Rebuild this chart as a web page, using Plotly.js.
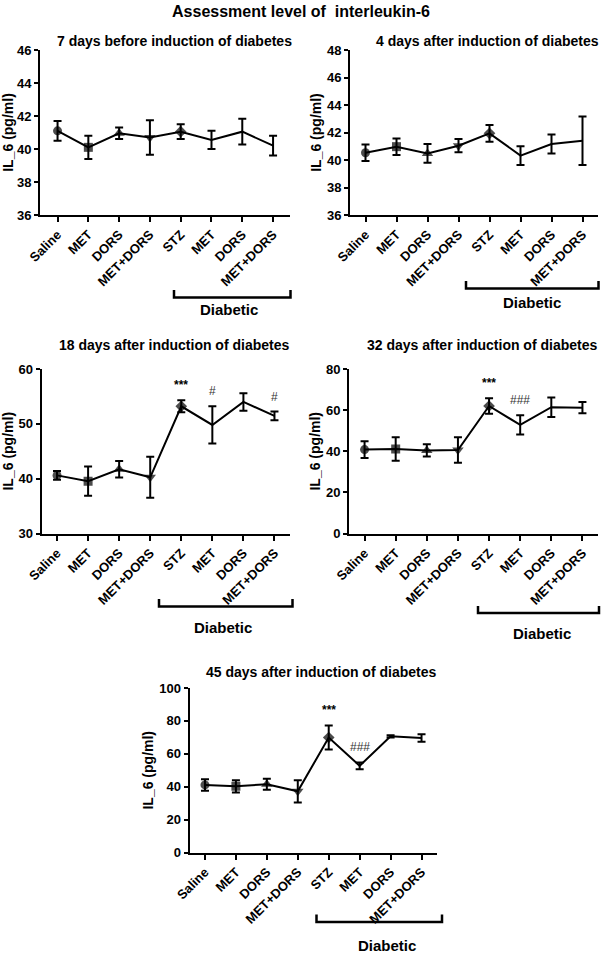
<!DOCTYPE html>
<html>
<head>
<meta charset="utf-8">
<script src="https://cdn.plot.ly/plotly-3.0.1.min.js"></script>
<style>html,body{margin:0;padding:0;background:#fff;}#chart{width:602px;height:956px;}</style>
</head>
<body>
<div id="chart"></div>
<script>
// ---- data ----
const groups = ['Saline', 'MET', 'DORS', 'MET+DORS', 'STZ', 'MET', 'DORS', 'MET+DORS'];
const groupIndex = [0, 1, 2, 3, 4, 5, 6, 7];

const meanDm7 = [41.1, 40.1, 40.95, 40.7, 41.05, 40.55, 41.05, 40.2];
const semDm7  = [0.6, 0.7, 0.35, 1.05, 0.45, 0.55, 0.78, 0.6];

const meanD4 = [40.53, 40.97, 40.48, 41.04, 41.94, 40.32, 41.16, 41.4];
const semD4  = [0.6, 0.6, 0.68, 0.48, 0.61, 0.68, 0.69, 1.76];

const meanD18 = [40.6, 39.55, 41.7, 40.25, 53.2, 49.8, 54.0, 51.45];
const semD18  = [0.8, 2.65, 1.5, 3.75, 1.1, 3.4, 1.6, 0.78];
const sigD18  = ['', '', '', '', '***', '#', '', '#'];

const meanD32 = [40.8, 41.1, 40.4, 40.6, 62.0, 52.8, 61.4, 61.2];
const semD32  = [4.05, 5.7, 3.0, 6.25, 3.8, 4.65, 4.8, 2.75];
const sigD32  = ['', '', '', '', '***', '###', '', ''];

const meanD45 = [41.1, 40.2, 41.5, 37.2, 69.9, 52.7, 70.6, 69.6];
const semD45  = [3.5, 3.75, 3.3, 6.75, 7.35, 2.05, 0.65, 2.35];
const sigD45  = ['', '', '', '', '***', '###', '', ''];

const panelTitles = [
  '7 days before induction of diabetes',
  '4 days after induction of diabetes',
  '18 days after induction of diabetes',
  '32 days after induction of diabetes',
  '45 days after induction of diabetes'
];
const yTitle = 'IL_6 (pg/ml)';
const groupLabel = 'Diabetic';
const mainTitle = 'Assessment level of  interleukin-6';

// ---- layout helpers ----
const W = 602, H = 956;
const px = v => v / W;
const py = v => 1 - v / H;
const FONT = 'Arial, "Liberation Sans", Helvetica, sans-serif';

const symbols = ['circle', 'square', 'triangle-up', 'triangle-down', 'diamond', 'circle', 'circle', 'circle'];
const sizes = [9, 9, 10, 10, 9, 0, 0, 0];

const panels = [
  {mean: meanDm7, sem: semDm7, sig: null, xd: [40, 290], yd: [50, 215], xr: [-0.57, 7.55], yr: [36, 46], dt: 2,
   tx: 174, ty: 41, br: [174, 290.5, 290, 297.5], dx: 229, dy: 309},
  {mean: meanD4, sem: semD4, sig: null, xd: [350, 598], yd: [50, 215], xr: [-0.5, 7.5], yr: [36, 48], dt: 2,
   tx: 487, ty: 41, br: [466, 598.5, 281, 288.5], dx: 532, dy: 303},
  {mean: meanD18, sem: semD18, sig: sigD18, xd: [41.5, 290], yd: [369, 533.5], xr: [-0.5, 7.5], yr: [30, 60], dt: 10,
   tx: 174, ty: 345, br: [159, 292.5, 599, 606.5], dx: 223, dy: 627},
  {mean: meanD32, sem: semD32, sig: sigD32, xd: [349, 598], yd: [369, 533.5], xr: [-0.5, 7.5], yr: [0, 80], dt: 20,
   tx: 482, ty: 345, br: [478, 599, 606, 613], dx: 542, dy: 633},
  {mean: meanD45, sem: semD45, sig: sigD45, xd: [189.5, 437], yd: [688, 852.5], xr: [-0.5, 7.5], yr: [0, 100], dt: 20,
   tx: 321, ty: 672, br: [316.5, 442, 914.5, 922], dx: 387, dy: 945}
];

const traces = [];
const layout = {
  width: W, height: H,
  margin: {l: 0, r: 0, t: 0, b: 0},
  paper_bgcolor: '#fff', plot_bgcolor: 'rgba(0,0,0,0)',
  showlegend: false,
  font: {family: FONT, color: '#000'},
  title: {text: mainTitle, x: 0.5, xanchor: 'center', xref: 'paper', y: py(11), yanchor: 'middle', yref: 'container',
          font: {family: FONT, size: 16, weight: 'bold', color: '#000'}},
  annotations: [], shapes: []
};

panels.forEach((p, i) => {
  const n = i + 1;
  const xa = 'x' + (n === 1 ? '' : n), ya = 'y' + (n === 1 ? '' : n);
  traces.push({
    type: 'scatter', mode: 'lines+markers', xaxis: xa, yaxis: ya,
    x: groupIndex, y: p.mean,
    line: {color: '#000', width: 2},
    marker: {color: '#000', symbol: symbols, size: sizes, line: {width: 0}},
    error_y: {type: 'data', array: p.sem, visible: true, color: '#000', thickness: 2, width: 4},
    hoverinfo: 'skip'
  });
  const xk = 'xaxis' + (n === 1 ? '' : n), yk = 'yaxis' + (n === 1 ? '' : n);
  layout[xk] = {
    domain: [px(p.xd[0]), px(p.xd[1])], anchor: ya, range: p.xr,
    tickmode: 'array', tickvals: groupIndex, ticktext: groups, tickangle: -45,
    showline: true, linecolor: '#000', linewidth: 2, ticks: 'outside', ticklen: 5, tickwidth: 2, tickcolor: '#000',
    showgrid: false, zeroline: false, fixedrange: true,
    tickfont: {family: FONT, size: 13, weight: 'bold', color: '#000'}, automargin: false
  };
  layout[yk] = {
    domain: [py(p.yd[1]), py(p.yd[0])], anchor: xa, range: p.yr, dtick: p.dt, tick0: 0,
    showline: true, linecolor: '#000', linewidth: 2, ticks: 'outside', ticklen: 4, tickwidth: 2, tickcolor: '#000',
    showgrid: false, zeroline: false, fixedrange: true,
    tickfont: {family: FONT, size: 13, weight: 'bold', color: '#000'},
    title: {text: yTitle, font: {family: FONT, size: 14, weight: 'bold', color: '#000'}, standoff: 2},
    automargin: false
  };
  layout.annotations.push({
    text: panelTitles[i], xref: 'paper', yref: 'paper', x: px(p.tx), y: py(p.ty),
    xanchor: 'center', yanchor: 'middle', showarrow: false,
    font: {family: FONT, size: 14, weight: 'bold', color: '#000'}
  });
  layout.annotations.push({
    text: groupLabel, xref: 'paper', yref: 'paper', x: px(p.dx), y: py(p.dy),
    xanchor: 'center', yanchor: 'middle', showarrow: false,
    font: {family: FONT, size: 15, weight: 'bold', color: '#000'}
  });
  const b = p.br;
  layout.shapes.push({
    type: 'path', xref: 'paper', yref: 'paper',
    path: `M ${px(b[0])},${py(b[2])} L ${px(b[0])},${py(b[3])} L ${px(b[1])},${py(b[3])} L ${px(b[1])},${py(b[2])}`,
    line: {color: '#000', width: 2.5}
  });
  if (p.sig) {
    p.sig.forEach((s, k) => {
      if (!s) return;
      layout.annotations.push({
        text: s, xref: xa, yref: ya, x: groupIndex[k], y: p.mean[k] + p.sem[k],
        yshift: 15, xanchor: 'center', yanchor: 'middle', showarrow: false,
        font: {family: FONT, size: 12, weight: s.startsWith('*') ? 'bold' : 'normal', color: s.startsWith('*') ? '#000' : '#333'}
      });
    });
  }
});

Plotly.newPlot('chart', traces, layout, {staticPlot: true, displayModeBar: false});
</script>
</body>
</html>
